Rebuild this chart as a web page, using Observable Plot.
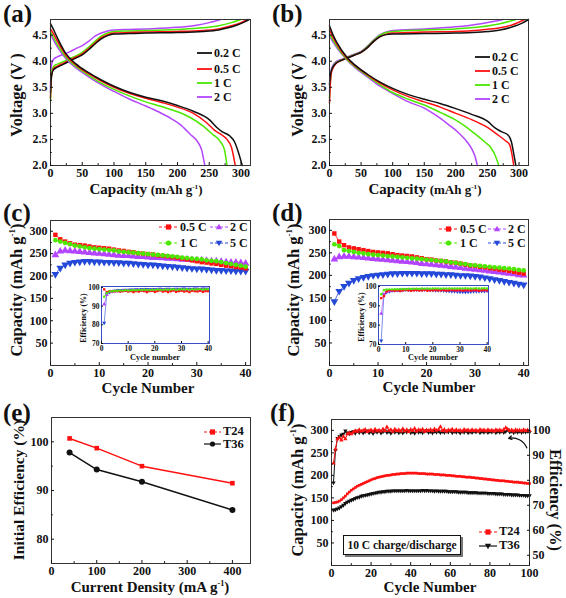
<!DOCTYPE html>
<html><head><meta charset="utf-8">
<script src="https://cdn.jsdelivr.net/npm/d3@7"></script>
<script src="https://cdn.jsdelivr.net/npm/@observablehq/plot@0.6"></script>
<style>
body{margin:0;background:#fff;}
#fig{position:relative;width:566px;height:598px;overflow:hidden;background:#fff;font-family:"Liberation Serif","DejaVu Serif","Noto Serif",Times,serif;font-weight:bold;color:#111;}
.lab{position:absolute;font-size:25px;line-height:1;}
.xt{position:absolute;transform:translateX(-50%);white-space:nowrap;font-size:15px;line-height:1;}
.yt{position:absolute;transform:translate(-50%,-50%) rotate(-90deg);white-space:nowrap;font-size:16.5px;line-height:1;}
.yr{position:absolute;transform:translate(-50%,-50%) rotate(90deg);white-space:nowrap;font-size:16.5px;line-height:1;}
.u{font-size:13px;}
sup{font-size:0.55em;vertical-align:0.7em;line-height:0;}
.lg{position:absolute;display:flex;align-items:center;height:12px;white-space:nowrap;line-height:1;}
.lg svg{margin-right:2px;}
.box{position:absolute;border:1px solid #111;box-shadow:2px 2px 0 #777;background:#fff;font-size:11.5px;display:flex;align-items:center;justify-content:center;white-space:nowrap;}
</style></head><body><div id="fig"></div>
<script>
// ---------------- DATA ----------------
// (a) charge/discharge curves [capacity mAh/g, voltage V]
const aChg02 = [[0,3.4],[1,3.65],[2,3.75],[5,3.84],[10,3.88],[20,3.94],[30,4.0],[40,4.06],[50,4.12],[60,4.22],[70,4.33],[80,4.43],[90,4.49],[100,4.52],[125,4.53],[150,4.54],[200,4.55],[240,4.57],[265,4.6],[280,4.64],[295,4.7],[305,4.75],[313,4.8]];
const aChg05 = [[0,3.3],[1,3.6],[2,3.75],[5,3.86],[10,3.9],[20,3.96],[30,4.02],[40,4.08],[50,4.14],[60,4.24],[70,4.35],[80,4.45],[90,4.51],[100,4.54],[125,4.55],[150,4.56],[200,4.57],[240,4.59],[265,4.62],[285,4.68],[300,4.74],[311,4.8]];
const aChg1 = [[0,3.25],[1,3.6],[2,3.8],[5,3.9],[10,3.94],[20,3.99],[30,4.05],[40,4.1],[50,4.17],[60,4.27],[70,4.38],[80,4.48],[90,4.54],[100,4.57],[125,4.58],[150,4.59],[200,4.61],[240,4.64],[265,4.68],[285,4.74],[300,4.8]];
const aChg2 = [[0,3.5],[1,3.85],[2,3.95],[5,4.04],[10,4.08],[20,4.13],[30,4.18],[40,4.24],[50,4.3],[60,4.38],[70,4.48],[80,4.54],[90,4.58],[100,4.6],[125,4.61],[150,4.62],[200,4.65],[230,4.69],[250,4.74],[268,4.8]];
const aDis02 = [[0,4.72],[5,4.6],[12,4.42],[24,4.15],[40,3.95],[60,3.78],[80,3.64],[100,3.52],[125,3.4],[150,3.31],[175,3.24],[200,3.15],[225,3.04],[250,2.88],[262,2.73],[270,2.65],[282,2.57],[290,2.45],[296,2.25],[302,2.0]];
const aDis05 = [[0,4.62],[5,4.52],[12,4.36],[24,4.12],[40,3.93],[60,3.76],[80,3.62],[100,3.5],[125,3.38],[150,3.29],[175,3.21],[200,3.12],[225,3.0],[245,2.83],[258,2.68],[268,2.6],[278,2.5],[285,2.35],[291,2.0]];
const aDis1 = [[0,4.57],[5,4.45],[12,4.3],[24,4.08],[40,3.9],[60,3.73],[80,3.58],[100,3.46],[125,3.33],[150,3.22],[175,3.13],[200,3.03],[220,2.92],[240,2.76],[255,2.6],[268,2.45],[274,2.3],[278,2.0]];
const aDis2 = [[0,4.52],[5,4.4],[12,4.25],[24,4.05],[40,3.87],[60,3.7],[80,3.55],[100,3.42],[125,3.27],[150,3.14],[170,3.03],[190,2.9],[205,2.78],[220,2.6],[232,2.45],[238,2.3],[243,2.0]];
// (b)
const bChg02 = [[0,3.55],[1,3.7],[3,3.82],[6,3.9],[10,3.96],[20,4.02],[30,4.07],[40,4.12],[50,4.17],[60,4.26],[70,4.38],[80,4.47],[90,4.51],[100,4.52],[150,4.53],[200,4.54],[240,4.56],[270,4.6],[290,4.66],[305,4.73],[315,4.8]];
const bChg05 = [[0,3.2],[1,3.5],[3,3.78],[6,3.88],[10,3.95],[20,4.02],[30,4.07],[40,4.12],[50,4.17],[60,4.26],[70,4.38],[80,4.47],[90,4.52],[100,4.54],[150,4.56],[200,4.57],[240,4.6],[270,4.64],[290,4.7],[309,4.8]];
const bChg1 = [[0,3.3],[1,3.55],[3,3.8],[6,3.9],[10,3.97],[20,4.03],[30,4.08],[40,4.13],[50,4.18],[60,4.28],[70,4.4],[80,4.5],[90,4.55],[100,4.57],[150,4.6],[200,4.62],[240,4.66],[270,4.72],[295,4.8]];
const bChg2 = [[0,3.4],[1,3.6],[3,3.85],[6,3.93],[10,3.99],[20,4.04],[30,4.09],[40,4.14],[50,4.19],[60,4.29],[70,4.41],[80,4.51],[90,4.56],[100,4.59],[150,4.62],[200,4.66],[240,4.72],[275,4.8]];
const bDis02 = [[0,4.68],[5,4.52],[12,4.35],[28,4.07],[40,3.93],[60,3.75],[80,3.6],[100,3.48],[125,3.36],[150,3.27],[175,3.19],[200,3.09],[225,2.98],[250,2.85],[262,2.72],[272,2.65],[283,2.58],[288,2.45],[292,2.2],[295,2.0]];
const bDis05 = [[0,4.6],[5,4.47],[12,4.32],[28,4.05],[40,3.92],[60,3.74],[80,3.58],[100,3.45],[125,3.32],[150,3.22],[175,3.12],[200,3.0],[225,2.88],[250,2.73],[265,2.6],[278,2.48],[285,2.4],[289,2.2],[291.6,2.0]];
const bDis1 = [[0,4.52],[5,4.42],[12,4.28],[28,4.03],[40,3.9],[60,3.72],[80,3.55],[100,3.4],[125,3.27],[150,3.16],[175,3.02],[200,2.87],[215,2.75],[230,2.61],[245,2.46],[255,2.35],[262,2.2],[268,2.0]];
const bDis2 = [[0,4.48],[5,4.38],[12,4.25],[28,4.02],[40,3.88],[60,3.7],[80,3.52],[100,3.38],[125,3.22],[150,3.1],[170,2.95],[190,2.77],[205,2.62],[218,2.45],[226,2.3],[231,2.15],[234,2.0]];
// (c) capacity per cycle 1..40
const c05 = [292,282,277,273,270,269,268,266,264,263,262,261,259,257,256,254,253,251,250,249,248,246,245,244,242,241,239,237,235,233,231,230,228,227,225,223,222,220,219,217];
const c1 = [280,277,274,271,268,266,264,262,261,260,259,258,257,255,254,253,252,251,250,249,248,247,246,245,244,243,241,240,239,238,237,235,234,233,231,229,227,225,223,221];
const c2 = [247,255,257,256,255,254,253,252,251,250,249,248,247,246,245,245,244,243,243,242,241,241,240,239,239,238,237,237,236,235,235,234,233,233,232,231,230,230,229,228];
const c5 = [204,218,225,229,231,232,233,233,232,232,231,231,230,230,229,229,228,227,226,225,225,224,223,222,221,220,219,218,217,216,216,215,214,213,213,212,212,211,211,211];
const cE05 = [99,97.5,98,98,98,98,97.8,98,98.2,97.8,98,97.5,98,97.8,98.3,98,97.5,98,98.2,97.6,98,98.4,97.8,98,97.5,98,98.3,97.6,98,98.2,97.8,98,97.5,98.2,98,97.8,98.2,97.6,98,98];
const cE1 = [95,97,97.8,98,98.2,98.2,98.4,98.3,98.5,98.4,98.5,98.6,98.5,98.7,98.6,98.8,98.7,98.6,98.8,98.7,98.9,98.8,98.7,98.9,98.8,98.9,99,98.8,98.9,99,98.9,99,98.8,99,98.9,99,99.1,98.9,99,99];
const cE2 = [91,96,97.5,97.8,98,98.2,98.1,98.3,98.2,98.4,98.3,98.5,98.4,98.6,98.5,98.7,98.6,98.5,98.7,98.6,98.8,98.7,98.6,98.8,98.7,98.8,98.9,98.7,98.8,98.9,98.8,98.9,98.7,98.9,98.8,99,98.8,98.9,98.8,98.9];
const cE5 = [81,96.5,97.5,98,98.2,98.4,98.5,98.6,98.7,98.6,98.8,98.7,98.9,98.8,99,98.9,99.1,99,98.9,99.1,99,99.2,99,99.1,99.2,99,99.1,99.2,99.1,99.2,99.3,99.1,99.2,99.1,99.3,99.2,99.1,99.3,99.2,99.2];
// (d)
const d05 = [293,275,267,262,260,258,256,254,252,251,250,249,247,245,244,243,242,240,238,236,235,233,232,231,229,228,226,224,222,221,219,218,216,215,213,212,210,208,206,204];
const d1 = [269,265,256,254,252,250,249,247,246,245,244,243,242,241,240,239,238,237,236,235,234,233,232,231,229,228,226,225,223,222,221,220,219,218,217,216,215,214,212,211];
const d2 = [236,241,242,242,241,240,239,238,237,236,235,234,233,232,231,230,229,228,226,225,224,223,222,221,219,218,217,215,214,213,212,211,209,208,207,205,204,203,201,200];
const d5 = [142,165,176,183,189,193,196,198,200,201,202,203,204,204,205,205,205,205,204,204,204,203,203,202,202,201,200,200,199,198,197,195,193,191,189,187,185,183,181,179];
const dE05 = [94,95,97.5,98,98,97.8,98,97.6,98,98.2,98,97.8,98,98.1,97.9,98,98.2,97.8,98,98,98.1,97.9,98,98.1,97.8,98,98.2,97.9,98,98.1,97.8,98,98.1,97.9,98,98.1,97.8,98,98.1,98];
const dE1 = [96,98.2,98.4,98.5,98.5,98.6,98.6,98.7,98.7,98.6,98.8,98.7,98.8,98.8,98.7,98.9,98.8,98.9,98.8,98.9,99,98.9,98.8,99,98.9,99,98.9,99,99,98.9,99,99.1,99,98.9,99,99.1,99,99,99.1,99];
const dE2 = [86,96,97.2,97.6,97.8,97.9,98,98,98.1,98.2,98.1,98.2,98.3,98.2,98.3,98.4,98.3,98.4,98.3,98.4,98.3,98.2,98.3,98.2,98.1,98.2,98.1,98.2,98,98.1,98.2,98.1,98,98.1,98.2,98,98.1,98.2,98.1,98];
const dE5 = [72,96,97,97.5,97.8,98,98.1,98.2,98.2,98.3,98.3,98.4,98.3,98.4,98.3,98.2,98.3,98.2,98.1,98.1,98,97.9,97.9,97.8,97.7,97.6,97.5,97.4,97.3,97.2,97.2,97.1,97.2,97.3,97.4,97.5,97.5,97.6,97.6,97.7];
// (e)
const eCurrent = [40,100,200,400];
const eT24 = [100.7,98.7,95.0,91.5];
const eT36 = [97.8,94.3,91.8,86.0];
// (f) 100 cycles at 10 C
const fCapT24 = [139,140,141,143,146,150,154,159,163,167,170,173,176,178,180,182,184,186,188,190,192,193,195,196,197,198,199,200,200,201,202,202,203,203,204,204,204,205,205,205,205,205,205,204,204,204,204,203,203,203,203,202,202,202,201,201,201,200,200,200,199,199,198,198,198,197,197,196,196,196,195,195,194,194,193,193,192,192,191,191,190,190,189,189,188,188,188,187,187,186,186,185,185,185,184,184,183,183,182,182];
const fCapT36 = [123,124,126,128,131,134,138,141,143,145,147,149,151,152,154,155,156,157,158,159,160,161,162,163,163,164,164,165,165,165,166,166,166,166,166,166,166,167,166,166,166,166,166,166,166,167,166,167,166,166,166,165,166,165,165,165,165,165,164,164,164,164,164,163,163,163,163,163,162,162,162,162,162,161,161,161,161,161,160,160,160,160,159,159,159,159,158,158,158,158,157,157,157,157,156,156,156,155,155,155];
const fEffT24 = [86.8,92.5,96.5,97,96,97.5,96.5,98.5,99,98.5,99.2,99.8,99.5,100.2,99.6,99.9,100.3,99.4,99.8,100.1,99.5,100.4,99.7,100.0,99.6,100.5,99.8,101.3,99.9,100.2,99.5,100.4,99.8,100.1,99.6,100.6,99.7,100.2,99.4,100.3,99.8,100.7,99.6,100.2,99.9,100.4,99.5,100.1,99.8,100.3,99.7,100.5,99.9,100.2,101.4,99.8,100.3,99.6,100.1,99.9,100.4,99.7,100.2,99.8,100.0,99.6,100.3,99.9,100.1,99.7,100.2,99.8,100.0,99.6,100.3,99.9,100.1,99.7,100.2,99.8,100.0,99.6,100.2,99.9,100.1,99.7,100.3,101.0,100.4,99.8,100.1,99.6,100.2,99.9,100.0,99.7,100.2,99.8,100.1,99.9];
const fEffT36 = [79,92,96.8,97.5,98.2,98.5,99.8,99.0,98.6,99.2,99.5,98.8,99.7,99.1,99.6,98.9,99.4,99.8,99.0,99.5,98.7,99.6,99.2,99.7,98.9,99.4,99.8,99.1,99.5,98.8,99.6,99.2,99.7,99.0,99.5,98.9,99.6,99.3,99.8,99.0,99.4,98.8,99.7,99.2,99.5,99.0,99.6,99.9,99.1,99.5,98.9,99.6,99.2,99.7,99.0,99.5,99.1,99.6,99.3,99.8,99.0,99.5,99.2,99.6,98.9,99.5,99.2,99.7,99.0,99.4,99.1,99.6,99.3,99.7,99.0,99.5,99.2,99.6,99.1,99.5,99.3,99.7,99.0,99.5,99.2,99.6,99.1,99.5,100.2,99.3,99.6,99.0,99.5,99.2,99.6,99.1,99.5,99.3,99.6,99.2];
const fArrow = [{x1: 98.6, e1: 93.0, x2: 89.5, e2: 96.8}];
// tick values
const vTicks = [2.0,2.5,3.0,3.5,4.0,4.5];
const capTicksX = [0,50,100,150,200,250,300];
const cycTicks40 = [0,10,20,30,40];
const capTicksY = [50,100,150,200,250,300];
const effInsetTicks = [70,80,90,100];
const curTicks = [0,100,200,300,400];
const iniTicks = [80,90,100];
const cycTicks100 = [0,20,40,60,80,100];
const effTicksF = [50,60,70,80,90,100];

// ---------------- DRAWING ----------------
const fig = document.getElementById("fig");
const FONT = '"Liberation Serif","DejaVu Serif","Noto Serif",Times,serif';
const COL = {black:"#111", red:"#ff1010", green:"#4be800", purple:"#b445ff", blue:"#2448d8"};
const triDown = {draw(ctx, size){const a=Math.sqrt(size*4/Math.sqrt(3)), h=a*Math.sqrt(3)/2; ctx.moveTo(0,2*h/3); ctx.lineTo(a/2,-h/3); ctx.lineTo(-a/2,-h/3); ctx.closePath();}};
const idx = (d,i) => i+1;
const mid = a => a.slice(0,-1).map((v,i)=>(v+a[i+1])/2);

function axes(o){
  const ts = o.ts ?? 3, tp = o.tp ?? 6;
  const m = [
    Plot.axisX(o.xt, {tickSize:-ts, tickPadding:tp, tickFormat:o.xf, label:null}),
    Plot.axisY(o.yt, {tickSize:-ts, tickPadding:tp, tickFormat:o.yf, label:null})
  ];
  if (o.xm) m.push(Plot.axisX(o.xm, {tickSize:-ts*0.6, tickFormat:()=>"", label:null}));
  if (o.ym) m.push(Plot.axisY(o.ym, {tickSize:-ts*0.6, tickFormat:()=>"", label:null}));
  return m;
}
function addPlot(o, left, top){
  const el = Plot.plot(Object.assign({style:{fontFamily:FONT, fontWeight:"bold", fontSize:(o.fs||12)+"px", background:"transparent", overflow:"visible"}}, o.p));
  el.style.position="absolute"; el.style.left=left+"px"; el.style.top=top+"px";
  fig.appendChild(el);
}
function html(cls, txt, x, y, extra){
  const d=document.createElement("div"); d.className=cls; d.innerHTML=txt; d.style.left=x+"px"; d.style.top=y+"px";
  if (extra) Object.assign(d.style, extra);
  fig.appendChild(d); return d;
}
function symSvg(kind, c, cx, cy, s){
  if (kind==="square") return `<rect x="${cx-s}" y="${cy-s}" width="${2*s}" height="${2*s}" fill="${c}"/>`;
  if (kind==="circle") return `<circle cx="${cx}" cy="${cy}" r="${s}" fill="${c}"/>`;
  if (kind==="up") return `<path d="M${cx},${cy-s*1.25}L${cx+s*1.2},${cy+s*0.85}L${cx-s*1.2},${cy+s*0.85}Z" fill="${c}"/>`;
  if (kind==="down") return `<path d="M${cx},${cy+s*1.25}L${cx+s*1.2},${cy-s*0.85}L${cx-s*1.2},${cy-s*0.85}Z" fill="${c}"/>`;
  return "";
}
function legendRow(x, yc, len, color, kind, text, fs, dash, sw){
  const s = `<svg width="${len}" height="10"><line x1="0" x2="${len}" y1="5" y2="5" stroke="${color}" stroke-width="${sw||1.5}" ${dash?'stroke-dasharray="3,2"':''}/>${symSvg(kind,color,len/2,5,2.6)}</svg>`;
  html("lg", s+`<span>${text}</span>`, x, yc-6, {fontSize:fs+"px"});
}

// ----- (a) & (b) voltage profiles
function voltPanel(sets){
  const colors = [COL.purple, COL.green, COL.red, COL.black];
  return sets.map((s,i)=>Plot.line(s, {x:d=>d[0], y:d=>d[1], stroke:colors[i], strokeWidth:1.5, curve:"monotone-x"}));
}
addPlot({p:{width:283, height:200, marginLeft:50, marginRight:33, marginTop:19, marginBottom:35,
  x:{domain:[0,315]}, y:{domain:[2,4.8]},
  marks:[...voltPanel([aChg2,aChg1,aChg05,aChg02]), ...voltPanel([aDis2,aDis1,aDis05,aDis02]),
    Plot.frame({stroke:"#333"}),
    ...axes({xt:capTicksX, xm:mid(capTicksX), yt:vTicks, ym:mid(vTicks), yf:d3.format(".1f")})]}}, 0, 0);
addPlot({p:{width:283, height:200, marginLeft:46, marginRight:38, marginTop:19, marginBottom:35,
  x:{domain:[0,315]}, y:{domain:[2,4.8]},
  marks:[...voltPanel([bChg2,bChg1,bChg05,bChg02]), ...voltPanel([bDis2,bDis1,bDis05,bDis02]),
    Plot.frame({stroke:"#333"}),
    ...axes({xt:capTicksX, xm:mid(capTicksX), yt:vTicks, ym:mid(vTicks), yf:d3.format(".1f")})]}}, 283, 0);

// ----- (c) & (d) cycling
function cycMarks(s05, s1, s2, s5, r, sw){
  const ser = [[s5,COL.blue,triDown,r*1.15],[s2,COL.purple,"triangle",r*1.15],[s05,COL.red,"square",r],[s1,COL.green,"circle",r*0.95]];
  const m = [];
  ser.forEach(([s,c,sym,rr])=>{
    m.push(Plot.line(s, {x:idx, y:d=>d, stroke:c, strokeWidth:sw}));
    m.push(Plot.dot(s, {x:idx, y:d=>d, symbol:sym, fill:c, r:rr, stroke:null}));
  });
  return m;
}
addPlot({p:{width:283, height:200, marginLeft:50, marginRight:33, marginTop:20, marginBottom:35,
  x:{domain:[0,41]}, y:{domain:[0,324]},
  marks:[...cycMarks(c05,c1,c2,c5,2.5,0.8), Plot.frame({stroke:"#333"}),
    ...axes({xt:cycTicks40, xm:mid(cycTicks40), yt:capTicksY, ym:mid(capTicksY)})]}}, 0, 200);
addPlot({p:{width:283, height:200, marginLeft:46, marginRight:38, marginTop:19, marginBottom:35,
  x:{domain:[0,41]}, y:{domain:[0,324]},
  marks:[...cycMarks(d05,d1,d2,d5,2.5,0.8), Plot.frame({stroke:"#333"}),
    ...axes({xt:cycTicks40, xm:mid(cycTicks40), yt:capTicksY, ym:mid(capTicksY)})]}}, 283, 200);
// insets
addPlot({fs:7.5, p:{width:140, height:84, marginLeft:26, marginRight:6, marginTop:5, marginBottom:22,
  x:{domain:[0,40.5]}, y:{domain:[70,100.5]},
  marks:[Plot.frame({fill:"#fff"}), ...cycMarks(cE05,cE1,cE2,cE5,1.3,0.6), Plot.frame({stroke:"#3a4fc4"}),
    ...axes({xt:cycTicks40, yt:effInsetTicks, ts:2, tp:4})]}}, 75, 281);
addPlot({fs:7.5, p:{width:142, height:84, marginLeft:26, marginRight:6, marginTop:5, marginBottom:20,
  x:{domain:[0,40.5]}, y:{domain:[70,100.5]},
  marks:[Plot.frame({fill:"#fff"}), ...cycMarks(dE05,dE1,dE2,dE5,1.3,0.6), Plot.frame({stroke:"#3a4fc4"}),
    ...axes({xt:cycTicks40, yt:effInsetTicks, ts:2, tp:4})]}}, 352, 280);

// ----- (e)
addPlot({p:{width:283, height:198, marginLeft:51, marginRight:33, marginTop:17, marginBottom:35,
  x:{domain:[0,440]}, y:{domain:[75,105]},
  marks:[
    Plot.line(eT36, {x:(d,i)=>eCurrent[i], y:d=>d, stroke:COL.black, strokeWidth:1.5}),
    Plot.dot(eT36, {x:(d,i)=>eCurrent[i], y:d=>d, fill:COL.black, r:3, symbol:"circle"}),
    Plot.line(eT24, {x:(d,i)=>eCurrent[i], y:d=>d, stroke:COL.red, strokeWidth:1.5}),
    Plot.dot(eT24, {x:(d,i)=>eCurrent[i], y:d=>d, fill:COL.red, r:2.6, symbol:"square"}),
    Plot.frame({stroke:"#333"}),
    ...axes({xt:curTicks, xm:mid(curTicks), yt:iniTicks, ym:[85,95]})]}}, 0, 400);

// ----- (f) dual axis
const toCapF = e => 22.7 + (e - 50) * 5.546;
const fromCapF = c => 50 + (c - 22.7) / 5.546;
addPlot({p:{width:283, height:198, marginLeft:48, marginRight:37, marginTop:19, marginBottom:33,
  x:{domain:[0,100]}, y:{domain:[0,324]},
  marks:[
    Plot.line(fCapT36, {x:idx, y:d=>d, stroke:COL.black, strokeWidth:1.2}),
    Plot.dot(fCapT36, {x:idx, y:d=>d, fill:COL.black, r:1.7, symbol:triDown}),
    Plot.line(fCapT24, {x:idx, y:d=>d, stroke:COL.red, strokeWidth:1.2}),
    Plot.dot(fCapT24, {x:idx, y:d=>d, fill:COL.red, r:1.5, symbol:"square"}),
    Plot.line(fEffT36, {x:idx, y:d=>toCapF(d), stroke:COL.black, strokeWidth:1}),
    Plot.dot(fEffT36, {x:idx, y:d=>toCapF(d), fill:COL.black, r:1.6, symbol:triDown}),
    Plot.line(fEffT24, {x:idx, y:d=>toCapF(d), stroke:COL.red, strokeWidth:1}),
    Plot.dot(fEffT24, {x:idx, y:d=>toCapF(d), fill:COL.red, r:1.6, symbol:"triangle"}),
    Plot.arrow(fArrow, {x1:"x1", y1:d=>toCapF(d.e1), x2:"x2", y2:d=>toCapF(d.e2), bend:-40, headLength:4, strokeWidth:1.3, stroke:"#111"}),
    Plot.frame({stroke:"#333"}),
    ...axes({xt:cycTicks100, xm:mid(cycTicks100), yt:capTicksY, ym:mid(capTicksY)}),
    Plot.axisY(effTicksF.map(toCapF), {anchor:"right", tickSize:-3, tickPadding:6, tickFormat:c=>Math.round(fromCapF(c)), label:null})
  ]}}, 283, 400);

// ----- text: panel labels, titles, legends
const G1 = '<span class="u">(mAh g<sup>-1</sup>)</span>';
html("lab","(a)",3,1); html("lab","(b)",272,1);
html("lab","(c)",3,200); html("lab","(d)",272,200);
html("lab","(e)",3,400); html("lab","(f)",270,400);
html("xt","Capacity "+G1,146,182); html("xt","Capacity "+G1,425,182);
html("yt","Voltage (V )",17,95); html("yt","Voltage (V )",298,95);
html("xt","Cycle Number",148,381); html("xt","Cycle Number",429,380);
html("yt","Capacity (mAh g<sup>-1</sup>)",17,290); html("yt","Capacity (mAh g<sup>-1</sup>)",294,290);
html("xt","Cycle number",155,354,{fontSize:"8.3px"}); html("xt","Cycle number",433,354,{fontSize:"8.3px"});
html("yt","Efficiency (%)",84,318,{fontSize:"8px"}); html("yt","Efficiency (%)",362,317,{fontSize:"8px"});
html("xt","Current Density (mA g<sup>-1</sup>)",150,580);
html("yt","Initial Efficiency (%)",19,490,{fontSize:"15.5px"});
html("xt","Cycle Number",430,580);
html("yt","Capacity (mAh g<sup>-1</sup>)",298,490);
html("yr","Efficiency (%)",555,500);

// legends
const rowsAB = [[COL.black,"0.2 C"],[COL.red,"0.5 C"],[COL.green,"1 C"],[COL.purple,"2 C"]];
[53.3,69,83,97.3].forEach((y,i)=>legendRow(197,y,15,rowsAB[i][0],null,rowsAB[i][1],12,false,1.8));
[57.3,71,85,99].forEach((y,i)=>legendRow(475,y,15,rowsAB[i][0],null,rowsAB[i][1],12,false,1.8));
function cycLegend(x1,x2,y1,y2){
  legendRow(x1,y1,19,COL.red,"square","0.5 C",12,true,1);
  legendRow(x2,y1,18,COL.purple,"up","2 C",12,true,1);
  legendRow(x1,y2,19,COL.green,"circle","1 C",12,true,1);
  legendRow(x2,y2,18,COL.blue,"down","5 C",12,true,1);
}
cycLegend(159,210,227.3,242.7);
cycLegend(439,488,229.3,243.3);
legendRow(204,431.7,17,COL.red,"square","T24",12.5,true,1.2);
legendRow(204,444.3,17,COL.black,"circle","T36",12.5,false,1.2);
legendRow(479,531.7,18,COL.red,"square","T24",12.5,true,1.2);
legendRow(479,545.7,18,COL.black,"down","T36",12.5,false,1.2);
html("box","10 C charge/discharge",343,535,{width:"116px",height:"18px"});
</script></body></html>
